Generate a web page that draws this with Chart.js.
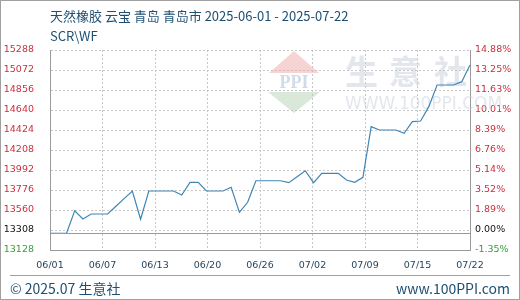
<!DOCTYPE html>
<html>
<head>
<meta charset="utf-8">
<script src="https://cdn.jsdelivr.net/npm/chart.js@4"></script>
<style>
  html, body { margin: 0; padding: 0; background: #fff; }
  #wrap { position: relative; width: 520px; height: 300px; box-sizing: border-box; border: 1px solid #a0a0a0; overflow: hidden; }
  #c { position: absolute; left: -1px; top: -1px; }
  .txt { position: absolute; font-family: "Noto Sans CJK SC", "Noto Sans", sans-serif; color: #1d4f73; white-space: nowrap; }
  #title { left: 49px; top: 5px; font-size: 13px; }
  #sub { left: 49px; top: 25px; font-size: 13px; }
  #foot { position: absolute; left: 9px; top: 274px; width: 500px; border-top: 1px solid #a0a0a0; }
  #fl { left: 9px; top: 277px; font-size: 14px; }
  #fr { right: 9px; top: 277px; font-size: 14px; }
</style>
</head>
<body>
<div id="wrap">
  <canvas id="c" width="520" height="300"></canvas>
  <div class="txt" id="title">天然橡胶 云宝 青岛 青岛市 2025-06-01 - 2025-07-22</div>
  <div class="txt" id="sub">SCR\WF</div>
  <div id="foot"></div>
  <div class="txt" id="fl">© 2025.07 生意社</div>
  <div class="txt" id="fr">www.100PPI.com</div>
</div>
<script>
// daily price, 06/01 .. 07/22
const prices = [
  13308, 13308, 13308, 13552, 13463, 13517, 13517, 13517, 13600, 13683,
  13765, 13460, 13765, 13765, 13765, 13765, 13722, 13859, 13859, 13765,
  13765, 13765, 13805, 13535, 13643, 13876, 13876, 13876, 13876, 13855,
  13920, 13984, 13855, 13956, 13956, 13956, 13884, 13859, 13913, 14460,
  14424, 14424, 14424, 14388, 14514, 14521, 14676, 14910, 14910, 14910,
  14946, 15126
];
const basePrice = 13308;
const xLabels = ['06/01', '06/07', '06/13', '06/20', '06/26', '07/02', '07/09', '07/15', '07/22'];
const yTicks = [13128, 13344, 13560, 13776, 13992, 14208, 14424, 14640, 14856, 15072, 15288];
const leftLabels = ['13128', '13308', '13560', '13776', '13992', '14208', '14424', '14640', '14856', '15072', '15288'];
const rightLabels = ['-1.35%', '0.00%', '1.89%', '3.52%', '5.14%', '6.76%', '8.39%', '10.01%', '11.63%', '13.25%', '14.88%'];

const red = '#c9303e', green = '#3c9a3c', black = '#111';
const tickColor = (ctx) => ctx.index === 0 ? green : (ctx.index === 1 ? black : red);
const tickFont = { family: 'DejaVu Sans', size: 9.5 };

const lastDay = prices.length - 1;

const watermark = {
  id: 'watermark',
  beforeDatasetsDraw(chart) {
    const { ctx, chartArea: a } = chart;
    ctx.save();
    // logo
    const cx = a.left + 244, top = a.top;
    ctx.fillStyle = 'rgba(240,170,170,0.5)';
    ctx.beginPath(); ctx.moveTo(cx, top + 1); ctx.lineTo(cx + 25, top + 23); ctx.lineTo(cx - 25, top + 23); ctx.fill();
    ctx.fillStyle = 'rgba(170,205,170,0.45)';
    ctx.beginPath(); ctx.moveTo(cx - 26, top + 42); ctx.lineTo(cx + 26, top + 42); ctx.lineTo(cx, top + 63); ctx.fill();
    ctx.fillStyle = 'rgba(170,190,215,0.55)';
    ctx.font = 'bold 18px "Liberation Serif"';
    ctx.textAlign = 'center'; ctx.textBaseline = 'middle';
    ctx.fillText('PPI', cx, top + 33);
    // name
    ctx.fillStyle = 'rgba(200,208,220,0.5)';
    ctx.font = 'bold 33px "Noto Sans CJK SC"';
    ctx.textAlign = 'left';
    ctx.fillText('生', a.left + 295, top + 21);
    ctx.fillText('意', a.left + 339, top + 21);
    ctx.fillText('社', a.left + 384, top + 21);
    ctx.font = '17px "DejaVu Sans"';
    ctx.fillText('WWW.100PPI.COM', a.left + 295, top + 55);
    ctx.restore();
  }
};

const baseLine = {
  id: 'baseLine',
  afterDatasetsDraw(chart) {
    const { ctx, chartArea: a } = chart;
    const y = Math.round(chart.scales.y.getPixelForValue(basePrice)) + 0.5;
    ctx.save();
    ctx.strokeStyle = '#9a9a9a';
    ctx.lineWidth = 1;
    ctx.beginPath(); ctx.moveTo(a.left, y); ctx.lineTo(a.right, y); ctx.stroke();
    ctx.restore();
  }
};

new Chart(document.getElementById('c'), {
  type: 'line',
  data: {
    datasets: [{
      data: prices.map((v, i) => ({ x: i, y: v })),
      borderColor: '#3f86b6',
      borderWidth: 1.2,
      pointRadius: 0,
      tension: 0,
      fill: false
    }]
  },
  options: {
    responsive: false,
    animation: false,
    layout: { padding: { top: 50, left: 0, right: 0, bottom: 0 } },
    plugins: { legend: { display: false }, tooltip: { enabled: false } },
    scales: {
      x: {
        type: 'linear',
        min: 0,
        max: lastDay,
        afterBuildTicks: (s) => { s.ticks = xLabels.map((_, i) => ({ value: i * lastDay / (xLabels.length - 1) })); },
        afterFit: (s) => { s.height = 50; },
        ticks: {
          autoSkip: false, maxRotation: 0, padding: 10,
          color: '#1d3f5a', font: tickFont,
          callback: (v, i) => xLabels[i]
        },
        grid: { color: '#c8c8c8', drawTicks: false },
        border: { display: true, color: '#9a9a9a', dash: [2, 2] }
      },
      y: {
        position: 'left',
        min: yTicks[0],
        max: yTicks[yTicks.length - 1],
        afterBuildTicks: (s) => { s.ticks = yTicks.map(v => ({ value: v })); },
        afterFit: (s) => { s.width = 50; },
        ticks: { padding: 16, color: tickColor, font: tickFont, callback: (v, i) => leftLabels[i] },
        grid: { color: '#c8c8c8', drawTicks: false },
        border: { display: true, color: '#9a9a9a', dash: [2, 2] }
      },
      y2: {
        position: 'right',
        min: yTicks[0],
        max: yTicks[yTicks.length - 1],
        afterBuildTicks: (s) => { s.ticks = yTicks.map(v => ({ value: v })); },
        afterFit: (s) => { s.width = 50; },
        ticks: { padding: 5, color: tickColor, font: tickFont, callback: (v, i) => rightLabels[i] },
        grid: { display: false, drawTicks: false },
        border: { display: true, color: '#9a9a9a' }
      }
    }
  },
  plugins: [watermark, baseLine]
});
</script>
</body>
</html>
